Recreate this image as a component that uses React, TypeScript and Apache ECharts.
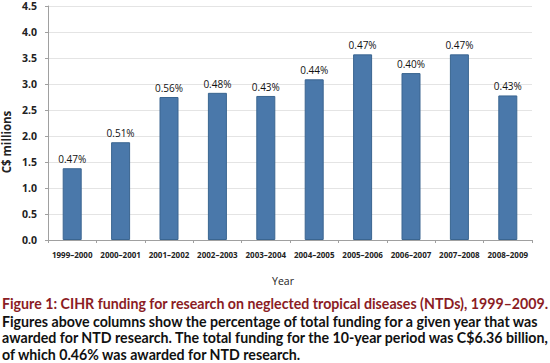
import React, { useEffect, useRef } from "react";
import * as echarts from "echarts";

const categories = [
  "1999–2000", "2000–2001", "2001–2002", "2002–2003", "2003–2004",
  "2004–2005", "2005–2006", "2006–2007", "2007–2008", "2008–2009",
];
const fundingMillions = [1.38, 1.88, 2.75, 2.83, 2.77, 3.09, 3.57, 3.21, 3.57, 2.78];
const percentLabels = ["0.47%", "0.51%", "0.56%", "0.48%", "0.43%", "0.44%", "0.47%", "0.40%", "0.47%", "0.43%"];

const titleLine = "Figure 1: CIHR funding for research on neglected tropical diseases (NTDs), 1999–2009.";
const captionLines = [
  "Figures above columns show the percentage of total funding for a given year that was",
  "awarded for NTD research. The total funding for the 10-year period was C$6.36 billion,",
  "of which 0.46% was awarded for NTD research.",
];

const FONT = "Lato, 'Open Sans', sans-serif";
const AXFONT = "'Open Sans', sans-serif";

export default function App() {
  const ref = useRef<HTMLDivElement>(null);
  useEffect(() => {
    document.body.style.margin = "0";
    const chart = echarts.init(ref.current!, null, { renderer: "svg" });
    chart.setOption({
      animation: false,
      textStyle: { fontFamily: FONT },
      grid: { left: 48, right: 18, top: 6, bottom: 123 },
      xAxis: {
        type: "category",
        data: categories,
        axisLine: { lineStyle: { color: "#a0a0a0" } },
        axisTick: { show: true, length: 3, lineStyle: { color: "#a0a0a0" } },
        axisLabel: { fontSize: 8, fontWeight: "bold", color: "#222", margin: 10, interval: 0, fontFamily: AXFONT },
      },
      yAxis: {
        type: "value",
        min: 0,
        max: 4.5,
        interval: 0.5,
        axisLine: { show: true, lineStyle: { color: "#a0a0a0" } },
        axisTick: { show: true, length: 3, lineStyle: { color: "#a0a0a0" } },
        splitLine: { lineStyle: { color: "#e4e4e4" } },
        axisLabel: {
          fontSize: 10.5,
          fontWeight: "bold",
          color: "#222",
          margin: 11,
          formatter: (v: number) => v.toFixed(1),
          fontFamily: AXFONT,
        },
      },
      series: [
        {
          type: "bar",
          data: fundingMillions,
          barWidth: 19,
          itemStyle: { color: "#4a78aa", borderColor: "#3a6590", borderWidth: 1 },
          label: {
            show: true,
            position: "top",
            distance: 4,
            fontSize: 10,
            color: "#111",
            fontFamily: AXFONT,
            formatter: (p: any) => percentLabels[p.dataIndex],
          },
        },
      ],
      graphic: [
        {
          type: "text",
          x: 6,
          y: 142,
          rotation: Math.PI / 2,
          style: {
            text: "C$ millions",
            font: `bold 11.5px ${AXFONT}`,
            fill: "#222",
            align: "center",
            verticalAlign: "middle",
          },
        },
        {
          type: "text",
          x: 283,
          y: 281,
          style: {
            text: "Year",
            font: `10.5px ${AXFONT}`,
            fill: "#222",
            align: "center",
            verticalAlign: "middle",
          },
        },
        {
          type: "text",
          x: 2,
          y: 303,
          style: {
            text: titleLine,
            font: `bold 14.2px ${FONT}`,
            fill: "#8b1c24",
            align: "left",
            verticalAlign: "middle",
          },
        },
        ...captionLines.map((t, i) => ({
          type: "text",
          x: 2,
          y: 321 + i * 16.7,
          style: {
            text: t,
            font: `bold 14.2px ${FONT}`,
            fill: "#111",
            align: "left",
            verticalAlign: "middle",
          },
        })),
      ],
    });
    return () => chart.dispose();
  }, []);
  return <div ref={ref} style={{ width: 550, height: 363 }} />;
}
